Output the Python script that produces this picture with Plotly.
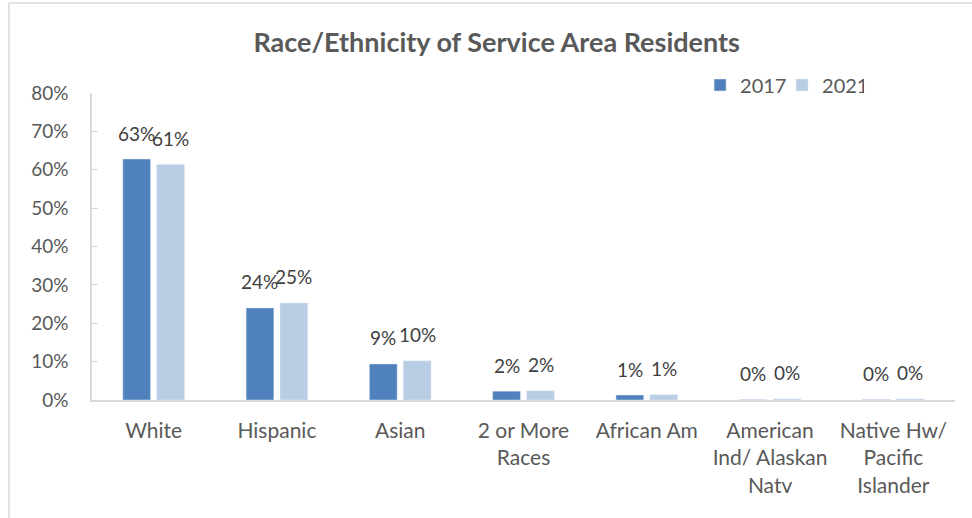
import plotly.graph_objects as go

categories = ["White", "Hispanic", "Asian", "2 or More<br>Races", "African Am",
              "American<br>Ind/ Alaskan<br>Natv", "Native Hw/<br>Pacific<br>Islander"]
share_2017 = [0.628, 0.240, 0.094, 0.023, 0.013, 0.001, 0.001]
share_2021 = [0.614, 0.253, 0.102, 0.024, 0.014, 0.003, 0.003]
y_ticks = [0, 0.1, 0.2, 0.3, 0.4, 0.5, 0.6, 0.7, 0.8]

FONT = "Lato"
label_font = dict(family=FONT, size=19, color="#404040")

fig = go.Figure()
fig.add_trace(go.Bar(x=categories, y=share_2017, name="2017",
                     marker=dict(color="#4F81BD"), hoverinfo="x+y"))
fig.add_trace(go.Bar(x=categories, y=share_2021, name="2021",
                     marker=dict(color="#B9CDE5"), hoverinfo="x+y"))

# data labels, sitting a little above each bar like Excel does
for vals, side in [(share_2017, -1), (share_2021, 1)]:
    for cat, v in zip(categories, vals):
        fig.add_annotation(x=cat, y=v, xref="x", yref="y", text=f"{v:.0%}",
                           showarrow=False, xshift=17 * side, yshift=26,
                           yanchor="middle", font=label_font)

# outer chart border (plot area is 92..955 x 93..400 px)
fig.add_shape(type="rect", xref="paper", yref="paper",
              x0=(9 - 92) / 863, x1=(990 - 92) / 863,
              y0=(400 - 530) / 307, y1=(400 - 3) / 307,
              line=dict(color="#D9D9D9", width=1.5), layer="below")

fig.update_layout(
    width=972, height=518,
    margin=dict(l=92, r=17, t=93, b=118, autoexpand=False),
    paper_bgcolor="white", plot_bgcolor="white",
    font=dict(family=FONT, color="#595959"),
    title=dict(text="<b>Race/Ethnicity of Service Area Residents</b>",
               x=0.511, xanchor="center", y=1 - 43 / 518, yanchor="middle",
               font=dict(family=FONT, size=27, color="#595959")),
    barmode="group", bargap=0.45, bargroupgap=0.18,
    showlegend=True,
    legend=dict(orientation="h", x=0.7046, xanchor="left",
                yref="container", y=1 - 85 / 518, yanchor="middle",
                font=dict(family=FONT, size=20, color="#595959"),
                itemwidth=30, entrywidth=37, bgcolor="rgba(0,0,0,0)"),
    xaxis=dict(showline=True, linecolor="#D9D9D9", linewidth=1.5,
               tickfont=dict(family=FONT, size=21, color="#595959"),
               ticks="", ticklabelstandoff=11, showgrid=False),
    yaxis=dict(range=[0, 0.8], tickvals=y_ticks, tickformat=".0%",
               showline=True, linecolor="#D9D9D9", linewidth=1.5,
               ticks="inside", ticklen=6, tickcolor="#D9D9D9",
               ticklabelstandoff=18,
               tickfont=dict(family=FONT, size=19, color="#595959"),
               showgrid=False, zeroline=False),
)

fig.write_html("out.html", config={"displayModeBar": False},
               post_script="document.body.style.margin='0';")
